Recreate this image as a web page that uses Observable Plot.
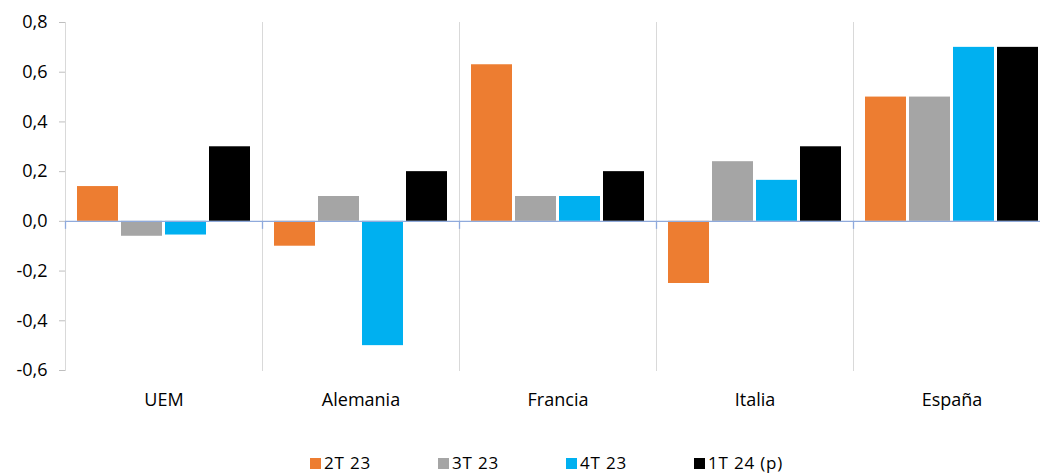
<!DOCTYPE html>
<html>
<head>
<meta charset="utf-8">
<script src="https://cdn.jsdelivr.net/npm/d3@7"></script>
<script src="https://cdn.jsdelivr.net/npm/@observablehq/plot@0.6"></script>
<style>
  html, body { margin: 0; padding: 0; background: #fff; overflow: hidden; width: 1040px; height: 474px; }
  #chart svg { display: block; max-width: none !important; }
  #legend { display: flex; padding-left: 310px; padding-top: 33px; font-family: "Open Sans", sans-serif; font-size: 17px; letter-spacing: 0.8px; color: #000; line-height: 20px; }
  .item { display: flex; align-items: center; white-space: nowrap; width: 128px; }
  .sw { width: 11px; height: 11px; margin-right: 3px; display: inline-block; }
</style>
</head>
<body>
<div id="chart"></div>
<div id="legend"></div>
<script>
const countries = ["UEM", "Alemania", "Francia", "Italia", "España"];
const series = ["2T 23", "3T 23", "4T 23", "1T 24 (p)"];
const v2T23 = [0.14, -0.10, 0.63, -0.25, 0.50];
const v3T23 = [-0.06, 0.10, 0.10, 0.24, 0.50];
const v4T23 = [-0.055, -0.50, 0.10, 0.165, 0.70];
const v1T24 = [0.30, 0.20, 0.20, 0.30, 0.70];
const colors = ["#ED7D31", "#A5A5A5", "#00B0F0", "#000000"];
const yTicks = [-0.6, -0.4, -0.2, 0, 0.2, 0.4, 0.6, 0.8];

const seriesValues = [v2T23, v3T23, v4T23, v1T24];
const data = countries.flatMap((c, i) => series.map((s, j) => ({country: c, series: s, value: seriesValues[j][i]})));
const fmt = d => d.toFixed(1).replace(".", ",");

const chart = Plot.plot({
  width: 1050,
  height: 420,
  marginLeft: 65,
  marginRight: 0,
  marginTop: 22,
  marginBottom: 50,
  style: {fontFamily: "'Open Sans', sans-serif", fontSize: "17px", color: "#000", background: "#fff"},
  fx: {domain: countries, padding: 0, label: null, axis: null},
  x: {domain: series, paddingInner: 0.07, paddingOuter: 0.27, axis: null},
  y: {domain: [-0.6, 0.8], axis: null},
  color: {domain: series, range: colors},
  marks: [
    Plot.frame({anchor: "left", stroke: "#d9d9d9"}),
    Plot.barY(data, {fx: "country", x: "series", y: "value", fill: "series", inset: 0}),
    Plot.ruleY([0], {stroke: "#8faadc", strokeWidth: 1.3}),
    Plot.axisY({ticks: yTicks, tickFormat: fmt, tickSize: 6, tickPadding: 12, stroke: "#bfbfbf", fill: "#000", label: null, fontSize: 18}),
    Plot.axisFx({anchor: "bottom", tickSize: 0, tickPadding: 23, label: null, fontSize: 18, letterSpacing: "0.5px", fill: "#000"})
  ]
});
chart.style.maxWidth = "none";
// small ticks under the zero line at each category boundary, placed with the plot's own scales
const fxScale = chart.scale("fx");
const yScale = chart.scale("y");
const svgNS = "http://www.w3.org/2000/svg";
const g = document.createElementNS(svgNS, "g");
countries.forEach(c => {
  const x = fxScale.apply(c) + 0.5;
  const y0 = yScale.apply(0);
  const l = document.createElementNS(svgNS, "line");
  l.setAttribute("x1", x); l.setAttribute("x2", x);
  l.setAttribute("y1", y0); l.setAttribute("y2", y0 + 8);
  l.setAttribute("stroke", "#8faadc"); l.setAttribute("stroke-width", 1.3);
  g.appendChild(l);
});
chart.appendChild(g);
document.getElementById("chart").appendChild(chart);

const legend = document.getElementById("legend");
series.forEach((s, i) => {
  const it = document.createElement("div");
  it.className = "item";
  it.innerHTML = `<span class="sw" style="background:${colors[i]}"></span><span>${s}</span>`;
  legend.appendChild(it);
});
</script>
</body>
</html>
